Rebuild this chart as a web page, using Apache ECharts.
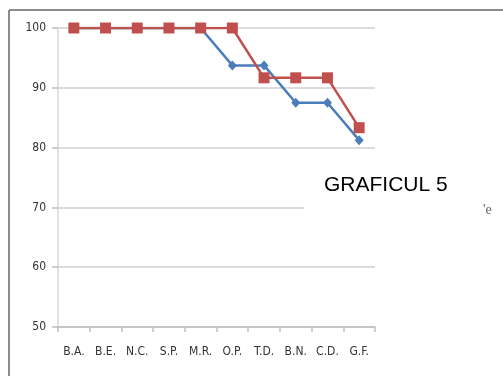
<!DOCTYPE html>
<html>
<head>
<meta charset="utf-8">
<script src="https://cdn.jsdelivr.net/npm/echarts@6/dist/echarts.min.js"></script>
<style>
  html, body { margin: 0; padding: 0; background: #fff; }
  #chart { width: 503px; height: 376px; }
</style>
</head>
<body>
<div id="chart"></div>
<script>
// Categories (initials) and the two result series
const categories = ['B.A.', 'B.E.', 'N.C.', 'S.P.', 'M.R.', 'O.P.', 'T.D.', 'B.N.', 'C.D.', 'G.F.'];
const seriesBlue = [100, 100, 100, 100, 100, 93.75, 93.75, 87.5, 87.5, 81.25];
const seriesRed = [100, 100, 100, 100, 100, 100, 91.67, 91.67, 91.67, 83.33];
const yTicks = [50, 60, 70, 80, 90, 100];

const chart = echarts.init(document.getElementById('chart'));
chart.setOption({
  animation: false,
  backgroundColor: '#ffffff',
  title: {
    text: 'GRAFICUL 5',
    left: 304,
    top: 165,
    padding: [10, 40, 19, 20],
    backgroundColor: '#ffffff',
    textStyle: {
      fontFamily: 'Liberation Sans, Arial, sans-serif',
      fontSize: 21,
      fontWeight: 'normal',
      color: '#000000'
    }
  },
  grid: { left: 58, right: 128, top: 28, bottom: 49, containLabel: false },
  xAxis: {
    type: 'category',
    data: categories,
    boundaryGap: true,
    axisLine: { lineStyle: { color: '#bfbfbf', width: 1.5 } },
    axisTick: { show: true, length: 5, lineStyle: { color: '#bfbfbf', width: 1.5 } },
    axisLabel: {
      margin: 19,
      fontFamily: 'Liberation Sans Narrow, DejaVu Sans Condensed, sans-serif',
      fontSize: 12,
      color: '#333333'
    }
  },
  yAxis: {
    type: 'value',
    min: yTicks[0],
    max: yTicks[yTicks.length - 1],
    interval: 10,
    axisLine: { show: true, lineStyle: { color: '#d9d9d9', width: 1.5 } },
    axisTick: { show: true, length: 6, lineStyle: { color: '#bfbfbf', width: 1.5 } },
    splitLine: { lineStyle: { color: '#d0d0d0', width: 1.5 } },
    axisLabel: {
      margin: 12,
      fontFamily: 'Liberation Sans Narrow, DejaVu Sans Condensed, sans-serif',
      fontSize: 12,
      color: '#333333'
    }
  },
  graphic: [
    // outer frame (left and top edges)
    { type: 'line', shape: { x1: 9, y1: 10, x2: 9, y2: 376 }, style: { stroke: '#8c8c8c', lineWidth: 2 }, z: 10 },
    { type: 'line', shape: { x1: 9, y1: 10, x2: 503, y2: 10 }, style: { stroke: '#8c8c8c', lineWidth: 2 }, z: 10 },
    { type: 'text', left: 483, top: 203, style: { text: "'e", fill: '#666666', fontSize: 14, fontFamily: 'Liberation Serif, serif' }, z: 10 }
  ],
  series: [
    {
      type: 'line',
      data: seriesBlue,
      symbol: 'diamond',
      symbolSize: [9, 10],
      z: 2,
      lineStyle: { color: '#4a7ebb', width: 2.5 },
      itemStyle: { color: '#4a7ebb' }
    },
    {
      type: 'line',
      data: seriesRed,
      symbol: 'rect',
      symbolSize: 11,
      z: 3,
      lineStyle: { color: '#c0504d', width: 2.5 },
      itemStyle: { color: '#c0504d' }
    }
  ]
});
</script>
</body>
</html>
